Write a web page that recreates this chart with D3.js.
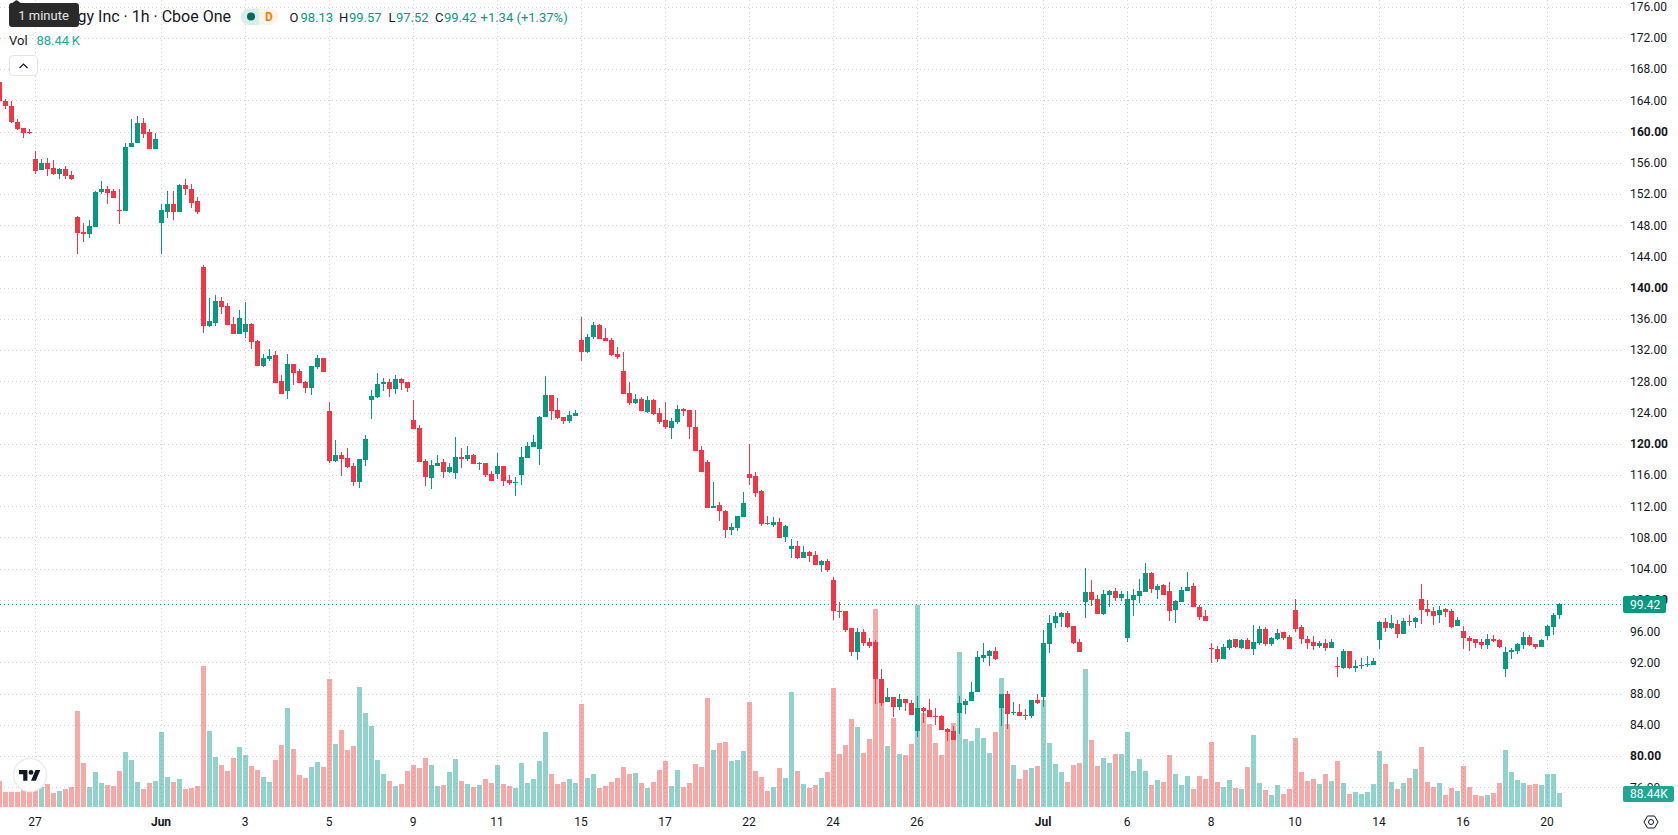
<!DOCTYPE html>
<html>
<head>
<meta charset="utf-8">
<title>Candlestick chart</title>
<script src="https://cdn.jsdelivr.net/npm/d3@7/dist/d3.min.js"></script>
<style>
  html, body { margin: 0; padding: 0; background: #fff; overflow: hidden; }
  svg { display: block; font-family: Roboto, sans-serif; }
  .axis text { font-size: 12px; fill: #131722; font-family: Roboto, sans-serif; }
  .axis .domain { display: none; }
  .crisp { shape-rendering: crispEdges; }
</style>
</head>
<body>
<div id="chart"></div>
<script>
// Hourly session bars, oldest first
const opens = [
  166.40,163.97,163.33,161.28,160.51,159.96,156.42,155.01,156.03,155.39,
  154.50,155.14,154.37,148.99,147.07,146.82,147.71,152.19,152.58,152.32,
  149.89,149.76,158.08,158.59,161.15,160.00,157.70,148.22,149.63,150.66,
  149.63,153.09,152.70,151.04,142.59,135.04,135.43,138.24,137.60,135.30,
  134.02,134.27,135.30,133.12,129.92,130.82,131.33,128.00,126.72,130.18,
  129.28,127.87,127.10,129.79,130.94,124.16,117.76,118.53,118.14,117.12,
  115.07,117.89,125.57,125.95,127.62,127.87,126.98,128.26,127.87,123.01,
  121.98,117.76,115.58,117.12,117.63,116.35,116.22,118.27,118.02,118.53,
  117.42,117.50,116.10,116.10,117.12,115.33,114.94,115.97,118.14,119.55,
  119.30,123.39,126.21,124.29,123.39,122.88,123.52,133.25,131.71,133.63,
  135.17,133.51,133.25,131.46,129.28,126.47,125.18,125.70,124.03,125.57,
  123.90,123.01,121.98,122.75,124.42,124.29,122.11,119.17,117.63,111.74,
  112.13,111.36,108.93,109.18,110.59,116.10,115.84,113.92,109.82,109.57,
  109.95,108.03,106.50,106.88,105.34,106.11,105.73,104.45,104.96,102.53,
  98.56,98.56,96.38,93.31,95.87,94.59,94.59,89.86,86.91,87.55,
  86.27,87.30,86.78,83.20,86.14,85.89,85.12,85.12,83.46,83.20,
  85.50,86.53,87.04,88.19,92.55,92.80,93.44,86.14,87.94,85.50,
  85.63,85.25,85.12,87.17,87.55,94.34,97.03,97.79,98.31,96.64,
  94.59,99.71,100.99,100.10,98.18,100.61,101.12,100.23,95.11,99.97,
  100.48,100.99,103.43,101.25,101.89,101.12,98.69,99.71,101.12,101.76,
  99.07,97.92,93.82,93.70,92.42,93.82,94.98,93.82,94.85,93.70,
  94.47,96.26,94.34,94.98,95.87,95.23,98.69,96.51,94.98,94.59,
  94.08,94.47,93.82,91.52,91.26,93.44,91.26,91.52,91.65,91.65,
  94.85,97.15,96.39,96.90,95.62,97.28,97.15,100.10,98.82,98.56,
  98.05,98.82,98.56,96.64,96.00,95.11,94.98,94.59,94.21,94.98,
  94.85,91.14,93.31,93.44,94.21,95.23,94.34,93.95,95.36,96.51,
  98.13
];
const highs = [
  166.40,164.18,163.97,161.54,160.51,160.34,157.44,156.54,156.67,156.29,
  155.39,155.52,154.88,149.12,148.22,148.61,152.32,153.60,152.96,152.58,
  152.58,158.59,161.66,162.05,161.79,160.26,159.87,150.66,152.32,152.32,
  153.34,153.86,153.22,151.55,142.85,138.63,139.01,138.75,137.99,136.19,
  137.09,138.11,135.43,133.25,131.46,132.10,131.84,128.77,131.46,130.18,
  129.54,128.00,129.92,131.33,130.94,125.31,120.45,118.91,119.42,117.50,
  118.02,121.09,126.85,129.02,128.38,128.26,128.77,128.38,127.87,125.57,
  122.37,118.02,117.89,118.53,118.02,117.50,120.83,119.42,119.68,118.66,
  117.63,117.50,116.48,118.83,117.12,115.97,115.71,119.55,120.19,121.09,
  123.52,128.64,126.21,125.82,123.39,124.16,124.29,136.19,134.02,135.55,
  135.30,134.79,133.51,132.35,131.71,127.87,126.34,125.95,126.08,125.70,
  124.54,125.31,123.26,124.93,124.54,124.29,124.29,119.68,117.89,115.07,
  112.51,111.49,109.82,110.72,113.79,119.94,116.35,114.05,110.72,110.59,
  110.46,109.57,107.78,107.52,106.88,106.24,106.24,105.09,105.22,102.91,
  99.71,98.56,96.38,96.39,96.26,95.11,94.85,91.14,88.71,87.55,
  87.94,87.30,87.17,87.68,86.27,87.30,86.14,85.25,83.58,83.84,
  87.68,87.30,89.47,93.44,94.47,93.57,93.95,87.94,88.32,86.91,
  86.66,86.02,87.17,87.94,96.13,98.05,98.43,98.43,98.56,96.64,
  94.98,104.07,102.53,100.61,101.25,101.25,101.51,101.12,101.12,101.38,
  102.66,104.71,103.55,102.02,102.02,102.27,99.97,101.63,103.55,102.15,
  99.33,98.69,94.47,94.08,94.34,94.98,94.98,94.98,95.11,96.77,
  96.64,96.51,95.23,96.26,95.87,95.49,100.10,96.77,95.36,95.36,
  94.72,94.98,94.98,92.67,93.70,93.44,92.29,92.54,92.80,92.54,
  97.28,97.67,98.05,97.41,97.67,98.05,97.79,102.02,99.97,99.07,
  99.20,98.95,98.82,97.79,96.64,95.36,94.98,94.98,95.62,95.49,
  94.98,93.95,93.83,94.47,95.87,95.49,94.34,94.98,96.77,98.31,
  99.57
];
const lows = [
  163.97,162.82,161.07,160.13,159.23,159.62,154.62,155.01,154.28,154.37,
  153.98,153.86,153.73,144.26,145.79,146.30,147.71,151.94,150.66,151.42,
  148.10,149.76,158.08,158.59,159.23,157.70,157.70,144.26,148.86,148.61,
  149.63,151.81,150.14,149.38,134.15,134.91,135.04,136.58,135.17,134.02,
  134.02,133.51,132.10,129.92,129.79,130.56,127.74,126.34,125.70,127.49,
  127.74,126.46,126.21,129.54,129.15,117.50,117.63,115.84,116.86,114.56,
  114.30,117.12,123.14,125.82,126.72,125.95,126.34,126.85,126.59,121.86,
  117.63,114.56,114.18,117.12,115.58,116.22,115.46,116.86,117.76,117.38,
  116.61,115.71,115.20,115.46,114.56,114.69,113.28,114.69,118.14,119.55,
  117.25,123.39,123.01,123.14,122.50,122.62,123.52,130.56,131.58,133.38,
  133.38,133.12,131.20,130.82,126.34,124.93,125.06,124.16,123.90,123.65,
  122.50,121.86,120.58,122.50,123.52,120.58,119.04,116.35,111.74,111.74,
  110.08,107.90,108.29,108.80,110.59,114.69,113.15,109.44,109.57,109.31,
  107.90,107.39,105.34,105.22,105.34,104.83,104.45,103.55,103.55,97.41,
  97.66,95.87,92.80,92.29,94.08,93.83,86.66,86.40,86.91,84.99,
  85.89,85.76,85.25,82.43,84.22,84.99,83.97,83.33,81.92,82.05,
  82.82,85.38,87.04,88.19,92.03,91.52,92.29,83.84,83.46,85.25,
  85.12,84.61,84.86,86.66,86.27,93.19,96.39,96.51,96.39,94.34,
  93.31,97.67,99.20,98.18,98.05,99.07,99.84,99.84,94.59,97.92,
  99.59,100.99,100.87,100.10,100.61,97.28,97.03,99.71,101.12,99.07,
  97.41,97.28,91.90,92.03,92.42,93.57,93.82,93.70,93.70,92.93,
  94.21,94.08,94.08,94.85,94.85,93.70,95.87,94.34,93.70,93.57,
  93.82,93.44,93.82,90.11,91.14,91.14,90.75,91.14,91.39,91.65,
  93.70,95.87,96.26,95.11,95.62,96.64,96.39,96.90,97.92,96.77,
  97.03,97.79,96.39,96.64,93.70,93.44,93.83,93.70,93.70,94.59,
  93.83,90.11,92.42,93.06,93.70,94.08,93.70,93.95,94.85,95.49,
  97.52
];
const closes = [
  163.97,163.33,161.20,160.38,159.87,159.87,154.88,155.99,155.26,154.50,
  155.14,154.24,153.98,146.94,146.82,147.84,152.19,152.58,152.06,151.42,
  149.76,158.08,158.59,161.15,159.74,157.70,159.10,149.89,150.66,149.63,
  153.09,152.58,150.78,149.63,135.04,135.68,138.24,137.47,135.17,134.02,
  136.07,135.30,132.99,129.92,130.94,131.20,127.74,126.34,130.18,129.02,
  127.74,127.10,129.92,130.94,129.15,117.76,118.53,118.02,116.99,115.07,
  118.02,120.58,126.08,127.62,127.87,126.98,128.26,127.74,127.10,121.86,
  117.63,115.71,117.25,117.50,116.35,116.99,118.27,118.02,118.53,117.38,
  117.55,115.97,115.20,117.12,115.20,114.94,115.07,118.27,119.68,120.19,
  123.39,126.21,124.16,123.26,122.88,123.65,123.90,131.71,133.63,135.17,
  133.38,133.12,131.33,131.07,126.34,125.18,125.70,124.16,125.57,123.78,
  122.75,122.11,122.88,124.42,124.16,122.11,119.04,116.35,111.74,112.00,
  111.36,108.93,109.31,110.72,112.38,115.58,113.66,109.70,109.70,109.95,
  107.90,109.44,106.88,105.34,106.11,105.60,104.45,104.96,103.81,98.56,
  98.47,96.13,93.31,95.87,94.47,94.08,89.86,86.78,87.55,86.27,
  87.30,86.78,85.25,86.14,85.76,84.99,84.99,83.33,83.07,82.05,
  86.78,87.04,88.19,92.67,92.93,93.44,92.42,87.94,85.38,85.63,
  85.12,85.16,87.17,86.78,94.47,97.03,97.92,98.31,96.51,94.47,
  93.31,100.99,99.97,98.18,100.74,101.12,100.23,100.74,100.10,100.61,
  101.12,103.43,101.38,101.76,100.61,98.56,99.84,101.25,101.63,99.07,
  97.79,97.28,93.70,92.42,93.95,94.85,93.95,94.85,93.70,94.59,
  96.26,94.34,95.11,95.75,95.11,93.70,96.26,94.98,94.47,94.08,
  94.47,93.82,94.59,91.39,93.44,91.26,91.52,91.65,91.78,92.16,
  97.15,96.39,97.03,95.62,97.28,97.15,97.67,98.69,98.43,97.92,
  98.69,98.43,96.51,97.41,95.11,94.72,94.47,94.21,94.98,94.72,
  93.95,93.31,93.57,94.34,95.23,94.21,93.95,94.85,96.64,98.05,
  99.42
];
// Traded volume per bar, in thousands of shares
const volumes = [
  166.1,94.9,94.9,94.9,107.9,94.9,107.9,127.3,146.7,88.4,
  101.4,114.3,127.3,619.1,282.6,127.3,224.3,153.1,140.2,133.7,
  230.8,353.7,302.0,159.6,114.3,153.1,166.1,483.2,192.0,159.6,
  179.0,114.3,120.8,133.7,916.7,489.6,321.4,269.6,230.8,314.9,
  386.1,334.3,263.2,237.3,192.0,159.6,302.0,399.0,644.9,373.2,
  204.9,185.5,256.7,289.0,256.7,832.6,405.5,496.1,366.7,392.6,
  780.8,606.1,522.0,302.0,211.4,166.1,133.7,146.7,230.8,269.6,
  250.2,314.9,269.6,133.7,140.2,224.3,308.5,166.1,146.7,127.3,
  140.2,179.0,153.1,269.6,146.7,133.7,120.8,282.6,153.1,179.0,
  295.5,483.2,211.4,146.7,159.6,179.0,153.1,670.8,185.5,211.4,
  120.8,133.7,159.6,185.5,256.7,211.4,217.9,153.1,120.8,159.6,
  237.3,295.5,133.7,237.3,127.3,153.1,276.1,256.7,709.7,366.7,
  412.0,418.5,295.5,302.0,360.2,683.8,230.8,192.0,101.4,127.3,
  250.2,185.5,748.5,230.8,146.7,120.8,140.2,185.5,224.3,774.4,
  340.8,399.0,567.3,515.5,349.4,440.0,1281.3,714.0,394.7,575.9,
  343.0,336.5,407.7,1309.3,608.3,537.1,414.1,336.5,498.3,543.6,
  1003.0,440.0,427.1,511.2,446.5,349.4,485.3,834.8,537.1,271.8,
  181.2,239.4,252.4,265.3,692.4,414.1,278.3,226.5,161.8,271.8,
  284.7,893.0,433.6,265.3,317.1,284.7,343.0,343.0,485.3,233.0,
  310.6,233.0,142.4,174.7,161.8,336.5,213.5,142.4,200.6,116.5,
  200.6,181.2,420.6,161.8,129.4,174.7,122.9,116.5,258.8,465.9,
  155.3,110.0,77.7,142.4,84.1,116.5,446.5,226.5,168.2,181.2,
  148.8,213.5,168.2,295.5,153.1,82.0,94.9,82.0,94.9,146.7,
  360.2,276.1,159.6,114.3,153.1,185.5,243.7,386.1,159.6,127.3,
  153.1,75.5,120.8,101.4,263.2,127.3,75.5,69.0,75.5,88.4,
  153.1,366.7,224.3,172.6,153.1,140.2,146.7,140.2,211.4,211.4,
  88.44
];
const priceTicks = [176,172,168,164,160,156,152,148,144,140,136,132,128,124,120,116,112,108,104,100,96,92,88,84,80,76];
const boldPrices = [160,140,120,100,80];
const dateTickBars = [6,27,41,55,69,83,97,111,125,139,153,174,188,202,216,230,244,258];
const dateTickLabels = ["27","Jun","3","5","9","11","15","17","22","24","26","Jul","6","8","10","14","16","20"];
const boldDates = ["Jun","Jul"];
const titleTail = "gy Inc \u00b7 1h \u00b7 Cboe One";
const legendOHLC = [["O","98.13"],["H","99.57"],["L","97.52"],["C","99.42"]];
const changeText = "+1.34 (+1.37%)";

const W = 1678, H = 835, paneRight = 1621, volumeBase = 807;
const upColor = "#089981", downColor = "#f23645";
const volUp = "#26a69a", volDown = "#ef5350";
const gridColor = "#d2d2d2";

const bars = opens.map((o, i) => ({ i, o, h: highs[i], l: lows[i], c: closes[i], v: volumes[i], up: closes[i] >= o }));

const x = d3.scaleLinear().domain([0, 260]).range([-0.5, 1559.5]);
const y = d3.scaleLinear().domain([76, 176]).range([787.3, 6.6]);
const yVol = d3.scaleLinear().domain([0, 1309.3]).range([volumeBase, 605]);
const py = p => Math.round(y(p));

const svg = d3.select("#chart").append("svg").attr("width", W).attr("height", H);

// Dotted grid
const grid = svg.append("g").attr("class", "crisp").attr("stroke", gridColor).attr("stroke-dasharray", "1 3");
grid.selectAll("line.h").data(priceTicks).join("line").attr("class", "h")
  .attr("x1", 0).attr("x2", paneRight)
  .attr("y1", d => py(d) + 0.5).attr("y2", d => py(d) + 0.5);
grid.selectAll("line.v").data(dateTickBars).join("line").attr("class", "v")
  .attr("x1", d => x(d)).attr("x2", d => x(d))
  .attr("y1", 0).attr("y2", volumeBase);

// Volume columns
svg.append("g").attr("class", "crisp").selectAll("rect").data(bars).join("rect")
  .attr("x", d => x(d.i) - 2.5).attr("width", 5)
  .attr("y", d => Math.round(yVol(d.v)))
  .attr("height", d => volumeBase - Math.round(yVol(d.v)))
  .attr("fill", d => d.up ? volUp : volDown).attr("fill-opacity", 0.5);

// Last price line
svg.append("line").attr("class", "crisp")
  .attr("x1", 0).attr("x2", paneRight)
  .attr("y1", py(closes[260]) + 0.5).attr("y2", py(closes[260]) + 0.5)
  .attr("stroke", upColor).attr("stroke-dasharray", "1 3");

// Candles
const candle = svg.append("g").attr("class", "crisp").selectAll("g").data(bars).join("g")
  .attr("fill", d => d.up ? upColor : downColor);
candle.append("rect")
  .attr("x", d => x(d.i) - 0.5).attr("width", 1)
  .attr("y", d => py(d.h)).attr("height", d => Math.max(1, py(d.l) - py(d.h)));
candle.append("rect")
  .attr("x", d => x(d.i) - 2.5).attr("width", 5)
  .attr("y", d => py(Math.max(d.o, d.c)))
  .attr("height", d => Math.max(1, py(Math.min(d.o, d.c)) - py(Math.max(d.o, d.c))));

// Price scale
const priceAxis = svg.append("g").attr("class", "axis").attr("transform", "translate(1630,0)")
  .call(d3.axisRight(y).tickValues(priceTicks).tickSize(0).tickPadding(0).tickFormat(d3.format(".2f")));
priceAxis.selectAll("text").style("font-weight", d => boldPrices.includes(d) ? 700 : 400);

// Time scale
const timeAxis = svg.append("g").attr("class", "axis").attr("transform", `translate(0,${volumeBase})`)
  .call(d3.axisBottom(x).tickValues(dateTickBars).tickSize(0).tickFormat(d => dateTickLabels[dateTickBars.indexOf(d)]));
timeAxis.selectAll("text").attr("y", 15).attr("dy", "0.32em").attr("x", -1)
  .style("font-weight", d => boldDates.includes(dateTickLabels[dateTickBars.indexOf(d)]) ? 700 : 400);

// Scale badges
svg.append("rect").attr("x", 1623).attr("y", 596).attr("width", 43).attr("height", 17).attr("rx", 2).attr("fill", upColor);
svg.append("text").attr("x", 1630).attr("y", 604.5).attr("dy", "0.35em").attr("fill", "#fff").attr("font-size", 12).text(d3.format(".2f")(closes[260]));
svg.append("rect").attr("x", 1623).attr("y", 786).attr("width", 51).attr("height", 16).attr("rx", 2).attr("fill", "#22a594");
svg.append("text").attr("x", 1630).attr("y", 794).attr("dy", "0.35em").attr("fill", "#fff").attr("font-size", 12).text("88.44K");

// Settings cog
const cog = svg.append("g").attr("transform", "translate(1651,822)").attr("fill", "none").attr("stroke", "#131722").attr("stroke-width", 1);
cog.append("polygon").attr("points", "-7,0 -3.5,-6 3.5,-6 7,0 3.5,6 -3.5,6");
cog.append("circle").attr("r", 2.5);

// Logo
const logo = svg.append("g");
logo.append("circle").attr("cx", 30).attr("cy", 775).attr("r", 16.5).attr("fill", "#fff").attr("stroke", "#ececec").attr("stroke-width", 1.5);
const mark = logo.append("g").attr("transform", "translate(19,767.6) scale(0.6)").attr("fill", "#131722");
mark.append("path").attr("d", "M14 22H7V11H0V4h14v18zM28 22h-8l7.5-18h8L28 22z");
mark.append("circle").attr("cx", 20).attr("cy", 8).attr("r", 4);

// Legend title and pill
svg.append("text").attr("x", 231).attr("y", 16.5).attr("dy", "0.35em").attr("text-anchor", "end")
  .attr("font-size", 16).attr("fill", "#131722").text(titleTail);
svg.append("path").attr("d", "M249,8.5 H259.5 V25 H249 A8.25,8.25 0 0 1 249,8.5 Z").attr("fill", "#d7eeea");
svg.append("path").attr("d", "M259.5,8.5 H270 A8.25,8.25 0 0 1 270,25 H259.5 Z").attr("fill", "#fff4e8");
svg.append("circle").attr("cx", 251).attr("cy", 16.5).attr("r", 4).attr("fill", "#06695b");
svg.append("text").attr("x", 269).attr("y", 16.5).attr("dy", "0.35em").attr("text-anchor", "middle")
  .attr("font-size", 12).attr("font-weight", 700).attr("fill", "#f57c00").text("D");

// OHLC readout
const legend = svg.append("g").attr("font-size", 13);
const letterX = [289.5, 339, 388.5, 435], valueX = [300.5, 349, 396, 444];
legendOHLC.forEach(([k, v], n) => {
  legend.append("text").attr("x", letterX[n]).attr("y", 17).attr("dy", "0.35em").attr("fill", "#131722").text(k);
  legend.append("text").attr("x", valueX[n]).attr("y", 17).attr("dy", "0.35em").attr("fill", upColor).text(v);
});
legend.append("text").attr("x", 480.5).attr("y", 17).attr("dy", "0.35em").attr("fill", upColor).text(changeText);

// Volume readout
legend.append("text").attr("x", 9).attr("y", 40.5).attr("dy", "0.35em").attr("fill", "#131722").text("Vol");
legend.append("text").attr("x", 36.5).attr("y", 40.5).attr("dy", "0.35em").attr("fill", "#22ab94").text("88.44\u2009K");

// Collapse button
svg.append("rect").attr("x", 9.5).attr("y", 55.5).attr("width", 28).attr("height", 20).attr("rx", 3.5)
  .attr("fill", "#fff").attr("stroke", "#e0e3eb");
svg.append("path").attr("d", "M19.5,68 L23.5,64 L27.5,68").attr("fill", "none").attr("stroke", "#131722").attr("stroke-width", 1.2);

// Interval tooltip
svg.append("path").attr("d", "M10,4 Q13,3 15,1 Q16.5,-0.5 18,1 Q20,3 23,4 Z").attr("fill", "#2a2a2a");
svg.append("rect").attr("x", 9).attr("y", 3).attr("width", 70).attr("height", 24).attr("rx", 3).attr("fill", "#2a2a2a");
svg.append("text").attr("x", 43.5).attr("y", 15.5).attr("dy", "0.35em").attr("text-anchor", "middle")
  .attr("font-size", 13).attr("fill", "#e6e6e6").text("1 minute");
</script>
</body>
</html>
